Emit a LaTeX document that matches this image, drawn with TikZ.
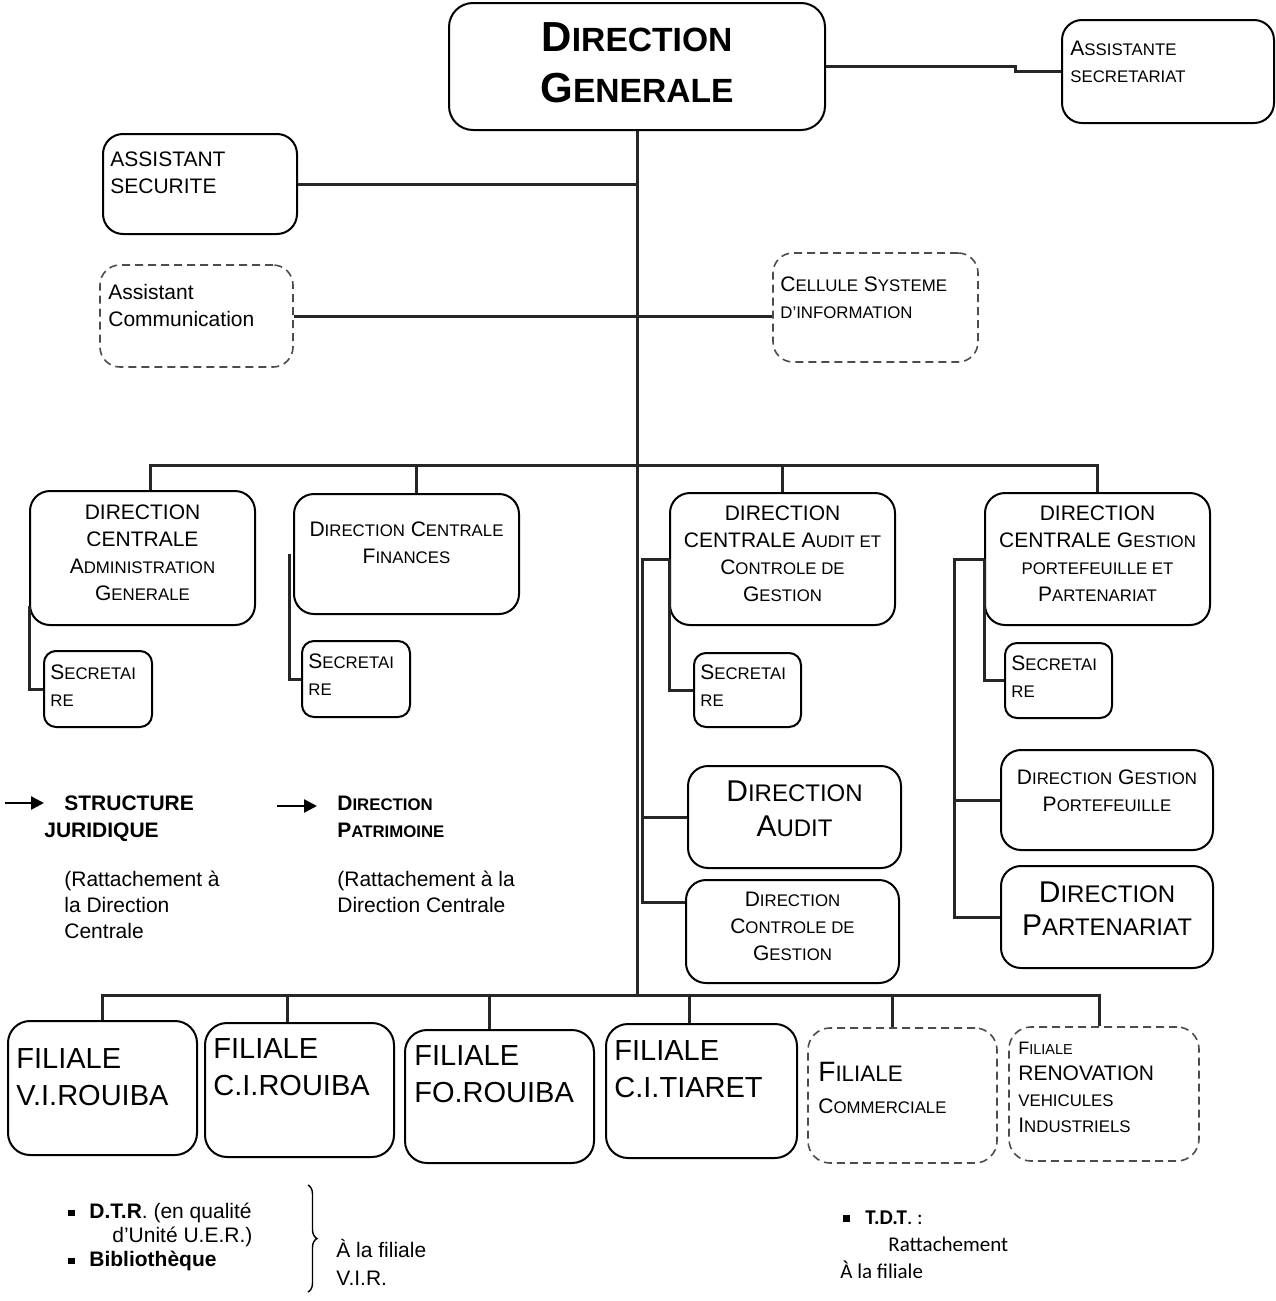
\documentclass[tikz,border=0pt]{standalone}
\usepackage{fontspec}
\setmainfont{Liberation Sans}
\newfontfamily\calibri{Carlito}
\usetikzlibrary{arrows.meta, positioning, calc, decorations.pathreplacing}

\makeatletter
% lower part of a small-caps word
\newcommand\lc[1]{{\fontsize{\fpeval{0.8*\f@size}}{\f@baselineskip}\selectfont #1}}
\makeatother
\newcommand\sqb{\rule[0.12em]{0.3em}{0.3em}}

\begin{document}
\begin{tikzpicture}[
  x=0.5pt, y=-0.5pt,
  orgbox/.style 2 args={
    draw, line width=1pt, rounded corners=10pt,
    minimum width=#1, minimum height=#2, inner sep=0pt
  },
  dashbox/.style 2 args={
    orgbox={#1}{#2}, draw=black!70,
    dash pattern=on 4pt off 2.5pt, line width=0.8pt
  },
  txt/.style={
    inner sep=0pt, align=left, anchor=north west,
    font=\fontsize{10.5}{13.5}\selectfont
  },
  ctxt/.style={txt, align=center, anchor=north},
  conn/.style={line width=1.5pt, black!85},
  legarr/.style={-{Triangle[length=6.5pt, width=6.5pt]}, line width=1.2pt}
]
\useasboundingbox (0,0) rectangle (1275,1301);

%% === DIRECTION GENERALE ===
\node[orgbox={188pt}{63.5pt}, rounded corners=12pt] (dg) at (637,66.5) {};
\node[ctxt, font=\fontsize{21}{25.5}\selectfont\bfseries] (dg-t) at (637,22)
  {D\lc{IRECTION}\\G\lc{ENERALE}};

\node[orgbox={106pt}{51.5pt}] (asst) at (1168,71.5) {};
\node[txt] (asst-t) at (1070,41) {A\lc{SSISTANTE}\\\lc{SECRETARIAT}};

\node[orgbox={97pt}{50pt}] (asec) at (200,184) {};
\node[txt] (asec-t) at (110,151) {ASSISTANT\\SECURITE};

\node[dashbox={96.5pt}{51pt}] (acom) at (196.5,316) {};
\node[txt] (acom-t) at (108,284) {Assistant\\Communication};

\node[dashbox={102.5pt}{54.5pt}] (cell) at (875.5,307.5) {};
\node[txt] (cell-t) at (780,276) {C\lc{ELLULE} S\lc{YSTEME}\\\lc{D'INFORMATION}};

%% === DIRECTIONS CENTRALES ===
\node[orgbox={112.5pt}{67pt}] (dcag) at (142.5,558) {};
\node[ctxt] (dcag-t) at (142.5,504)
  {DIRECTION\\CENTRALE\\A\lc{DMINISTRATION}\\G\lc{ENERALE}};

\node[orgbox={112.5pt}{60pt}] (dcf) at (406.5,554) {};
\node[ctxt] (dcf-t) at (406.5,521) {D\lc{IRECTION} C\lc{ENTRALE}\\F\lc{INANCES}};

\node[orgbox={112.5pt}{66pt}] (dcacg) at (782.5,559) {};
\node[ctxt] (dcacg-t) at (782.5,505)
  {DIRECTION\\CENTRALE A\lc{UDIT ET}\\C\lc{ONTROLE DE}\\G\lc{ESTION}};

\node[orgbox={112.5pt}{66pt}] (dcgpp) at (1097.5,559) {};
\node[ctxt] (dcgpp-t) at (1097.5,505)
  {DIRECTION\\CENTRALE G\lc{ESTION}\\\lc{PORTEFEUILLE ET}\\P\lc{ARTENARIAT}};

%% secretaires
\node[orgbox={54pt}{38pt}, rounded corners=6pt] (sec1) at (98,689) {};
\node[txt] (sec1-t) at (50,664) {S\lc{ECRETAI}\\\lc{RE}};
\node[orgbox={54pt}{38pt}, rounded corners=6pt] (sec2) at (356,679) {};
\node[txt] (sec2-t) at (308,653) {S\lc{ECRETAI}\\\lc{RE}};
\node[orgbox={53.5pt}{37pt}, rounded corners=6pt] (sec3) at (747.5,690) {};
\node[txt] (sec3-t) at (700,664) {S\lc{ECRETAI}\\\lc{RE}};
\node[orgbox={53.5pt}{37.5pt}, rounded corners=6pt] (sec4) at (1058.5,680.5) {};
\node[txt] (sec4-t) at (1011,655) {S\lc{ECRETAI}\\\lc{RE}};

%% directions rattachees
\node[orgbox={106.5pt}{51pt}] (da) at (794.5,817) {};
\node[ctxt, font=\fontsize{15}{17.5}\selectfont] (da-t) at (794.5,780)
  {D\lc{IRECTION}\\A\lc{UDIT}};
\node[orgbox={106.5pt}{51.5pt}] (dcg) at (792.5,931.5) {};
\node[ctxt] (dcg-t) at (792.5,891.5) {D\lc{IRECTION}\\C\lc{ONTROLE DE}\\G\lc{ESTION}};
\node[orgbox={106pt}{50pt}] (dgp) at (1107,800) {};
\node[ctxt] (dgp-t) at (1107,769.5) {D\lc{IRECTION} G\lc{ESTION}\\P\lc{ORTEFEUILLE}};
\node[orgbox={106pt}{51pt}] (dp) at (1107,917) {};
\node[ctxt, font=\fontsize{15}{16.5}\selectfont] (dp-t) at (1107,881)
  {D\lc{IRECTION}\\P\lc{ARTENARIAT}};

%% === FILIALES ===
\node[orgbox={94.5pt}{67pt}, rounded corners=11pt] (f1) at (102.5,1088) {};
\node[txt, font=\fontsize{14.5}{18.5}\selectfont] (f1-t) at (16,1048) {FILIALE\\V.I.ROUIBA};
\node[orgbox={94.5pt}{67pt}, rounded corners=11pt] (f2) at (299.5,1090) {};
\node[txt, font=\fontsize{14.5}{18.5}\selectfont] (f2-t) at (213,1038) {FILIALE\\C.I.ROUIBA};
\node[orgbox={94.5pt}{66.5pt}, rounded corners=11pt] (f3) at (499.5,1096.5) {};
\node[txt, font=\fontsize{14.5}{18.5}\selectfont] (f3-t) at (414,1045) {FILIALE\\FO.ROUIBA};
\node[orgbox={95.5pt}{67pt}, rounded corners=11pt] (f4) at (701.5,1091) {};
\node[txt, font=\fontsize{14.5}{18.5}\selectfont] (f4-t) at (614,1040) {FILIALE\\C.I.TIARET};
\node[dashbox={94.5pt}{67.5pt}, rounded corners=11pt] (f5) at (902.5,1095.5) {};
\node[txt, font=\fontsize{10.5}{16}\selectfont] (f5-t) at (818,1062)
  {{\fontsize{14}{16}\selectfont F\lc{ILIALE}}\\C\lc{OMMERCIALE}};
\node[dashbox={95pt}{67pt}, rounded corners=11pt] (f6) at (1104,1094) {};
\node[txt, font=\fontsize{10.5}{13}\selectfont] (f6-t) at (1018,1041.5)
  {{\fontsize{9}{13}\selectfont F\lc{ILIALE}}\\RENOVATION\\\lc{VEHICULES}\\I\lc{NDUSTRIELS}};

%% === LIAISONS ===
\coordinate (busA) at (637,465);
\coordinate (busB) at (637,995);
\draw[conn] (dg.south) -- (busB);
\draw[conn] (dg.east) -| ([xshift=-23pt]asst.west) -- (asst.west);
\draw[conn] (asec.east) -- (asec.east -| dg.south);
\draw[conn] (acom.east) -- (acom.east -| cell.west);

\draw[conn] ([xshift=4pt]dcag.north) |- (busA) -| (dcgpp.north);
\draw[conn] ([xshift=5pt]dcf.north) -- ([xshift=5pt]dcf.north |- busA);
\draw[conn] (dcacg.north) -- (dcacg.north |- busA);

\draw[conn] ([yshift=10pt]dcag.south west) |- (sec1.west);
\draw[conn] ([xshift=-2pt]dcf.west) |- (sec2.west);
\draw[conn] (dcacg.west) |- (sec3.west);
\draw[conn] (dcgpp.west) |- (sec4.west);

\coordinate (acg-l) at ($(dcacg.west)+(-27,0)$);
\draw[conn] (dcacg.west) -- (acg-l) |- ($(dcg.north west)+(0,23)$);
\draw[conn] (acg-l |- da.west) -- (da.west);
\coordinate (gpp-l) at ($(dcgpp.west)+(-30,0)$);
\draw[conn] (dcgpp.west) -- (gpp-l) |- (dp.west);
\draw[conn] (gpp-l |- dgp.west) -- (dgp.west);

\draw[conn] (f1.north) |- (busB) -| ([xshift=-2.5pt]f6.north);
\draw[conn] ([xshift=-6pt]f2.north) -- ([xshift=-6pt]f2.north |- busB);
\draw[conn] ([xshift=-5pt]f3.north) -- ([xshift=-5pt]f3.north |- busB);
\draw[conn] ([xshift=-6pt]f4.north) -- ([xshift=-6pt]f4.north |- busB);
\draw[conn] ([xshift=-5pt]f5.north) -- ([xshift=-5pt]f5.north |- busB);

%% === STRUCTURES RATTACHEES ===
\node[txt, font=\fontsize{10.5}{13.5}\selectfont\bfseries] (sj) at (44,795.5)
  {\hspace*{10pt}STRUCTURE\\JURIDIQUE};
\coordinate (sj-a) at (5,803);
\draw[legarr] (sj-a) -- (sj-a -| sj.west);
\node[txt, font=\fontsize{10.5}{13}\selectfont] (sj-r) at (64,870.5)
  {(Rattachement à\\la Direction\\Centrale};

\node[txt, font=\fontsize{10.5}{13.5}\selectfont\bfseries] (pat) at (337,795.5)
  {D\lc{IRECTION}\\P\lc{ATRIMOINE}};
\coordinate (pat-a) at (277,806);
\draw[legarr] (pat-a) -- ($(pat-a -| pat.west)+(-20,0)$);
\node[txt, font=\fontsize{10.5}{13}\selectfont] (pat-r) at (337,870.5)
  {(Rattachement à la\\Direction Centrale};

\node[txt, font=\fontsize{10.5}{12}\selectfont] (dtr) at (68,1203)
  {\makebox[10.5pt][l]{\sqb}\textbf{D.T.R}. (en qualité\\
   \hspace*{22pt}d’Unité U.E.R.)\\
   \makebox[10.5pt][l]{\sqb}\textbf{Bibliothèque}};
\draw[decorate, decoration={brace, amplitude=4.5pt}, line width=0.7pt]
  (308,1185) -- (308,1292);
\node[txt, font=\fontsize{10.5}{14}\selectfont] (vir) at (336,1239)
  {À la filiale\\V.I.R.};

\node[txt, font=\calibri\fontsize{10.5}{13.5}\selectfont] (tdt) at (840,1210)
  {\hspace*{1.5pt}\makebox[11pt][l]{\sqb}\textbf{T.D.T}. :\\
   \hspace*{24pt}Rattachement\\
   À la filiale};

\end{tikzpicture}
\end{document}
